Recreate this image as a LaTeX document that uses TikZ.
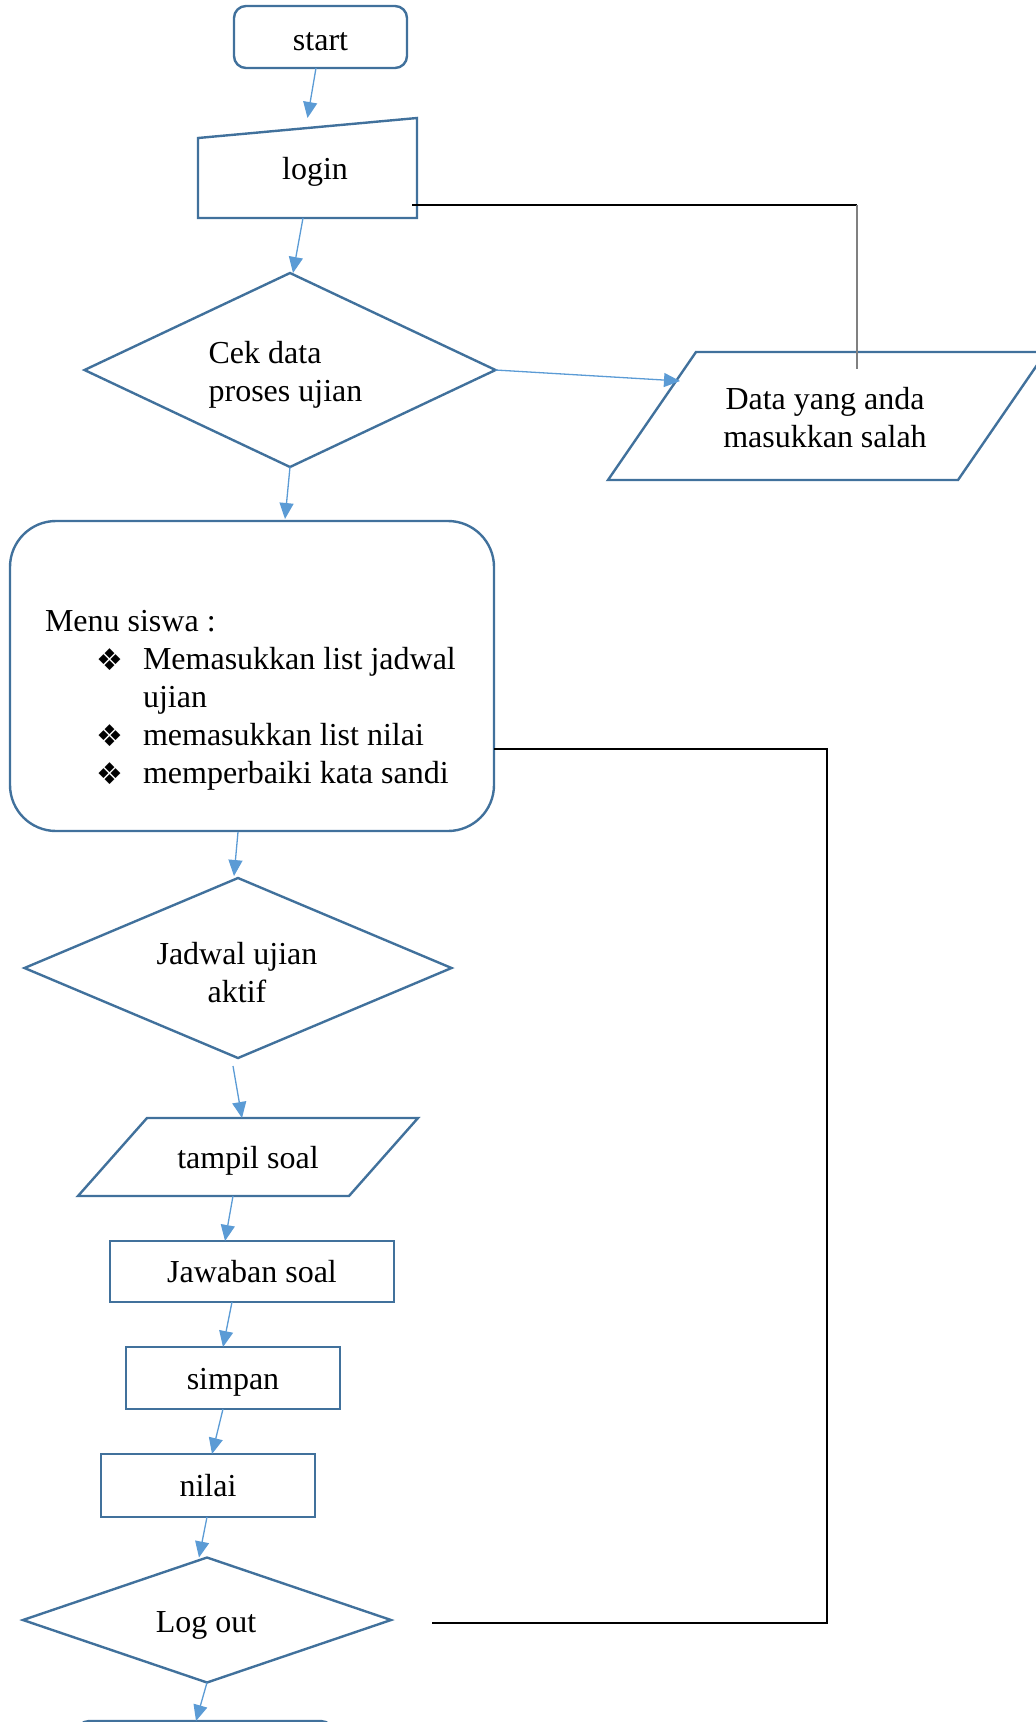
\documentclass[tikz,border=0pt]{standalone}
\usepackage{fontspec}
\setmainfont{Liberation Serif}
\newfontfamily\dingfont{DejaVu Sans}
\usetikzlibrary{shapes.geometric,arrows.meta,calc}
\definecolor{shapeblue}{HTML}{41719C}
\definecolor{arrowblue}{HTML}{5B9BD5}
\newcommand{\dingbul}{\raisebox{-1pt}{\dingfont\fontsize{30}{30}\selectfont ❖}}
\begin{document}
\begin{tikzpicture}[x=1pt,y=-1pt,
  every node/.style={font=\fontsize{32}{38}\selectfont, inner sep=0pt, outer sep=0pt},
  oneline/.style={text height=29pt, text depth=7pt},
  box/.style={draw=shapeblue, line width=2.4pt, rectangle, oneline},
  roundbox/.style={box, rounded corners=12pt},
  frame/.style={rectangle, draw=none},
  outline/.style={draw=shapeblue, line width=2.4pt, line join=miter},
  decision/.style={draw=shapeblue, line width=2.4pt, diamond},
  flow/.style={draw=arrowblue, line width=1.3pt, -{Triangle[length=16pt,width=14pt]}},
  link/.style={draw=black, line width=1.1pt},
  menutext/.style={anchor=base west}
]
\useasboundingbox (0,0) rectangle (1036,1722);

% --- shapes ---
\node[roundbox, minimum width=173pt, minimum height=62pt, text depth=3pt] (start) at (320.5,37) {start};

\node[frame, minimum width=219pt, minimum height=100pt] (login) at (307.5,168) {};
\draw[outline] (login.south west) -- ($(login.north west)+(0,20)$) -- (login.north east) -- (login.south east) -- cycle;
\node (logintext) at (315,172) {login};

\node[decision, minimum width=411pt, minimum height=194pt] (cek) at (290,370) {};
\node[align=left] (cektext) at (285.5,375) {Cek data\\proses ujian};

\node[frame, minimum width=438pt, minimum height=128pt] (data) at (827,416) {};
\draw[outline] ($(data.north west)+(88,0)$) -- (data.north east) -- ($(data.south east)+(-88,0)$) -- (data.south west) -- cycle;
\node[align=center] (datatext) at (825,417.5) {Data yang anda\\masukkan salah};

\node[draw=shapeblue, line width=2.4pt, rounded corners=46pt, minimum width=484pt, minimum height=310pt] (menu) at (252,676) {};
\node[menutext] (m0) at (45,631) {Menu siswa :};
\node[menutext] (m1) at (96,669) {\makebox[47pt][l]{\dingbul}Memasukkan list jadwal};
\node[menutext] (m2) at (143,707) {ujian};
\node[menutext] (m3) at (96,745) {\makebox[47pt][l]{\dingbul}memasukkan list nilai};
\node[menutext] (m4) at (96,783) {\makebox[47pt][l]{\dingbul}memperbaiki kata sandi};

\node[decision, minimum width=427pt, minimum height=180pt] (jadwal) at (238,968) {};
\node[align=center] (jadwaltext) at (237,972.5) {Jadwal ujian\\aktif};

\node[frame, minimum width=340pt, minimum height=78pt, oneline] (tampil) at (248,1157) {tampil soal};
\draw[outline] ($(tampil.north west)+(69,0)$) -- (tampil.north east) -- ($(tampil.south east)+(-69,0)$) -- (tampil.south west) -- cycle;

\node[box, minimum width=284pt, minimum height=61pt] (jawaban) at (252,1271.5) {Jawaban soal};
\node[box, minimum width=214pt, minimum height=62pt] (simpan) at (233,1378) {simpan};
\node[box, minimum width=214pt, minimum height=63pt] (nilai) at (208,1485.5) {nilai};

\node[decision, aspect=2.94, minimum width=368pt, minimum height=125pt] (logout) at (207,1620) {};
\node[oneline] (logouttext) at (206,1621) {Log out};

\node[draw=shapeblue, line width=2.4pt, rounded corners=12pt, minimum width=256pt, minimum height=60pt] (finish) at (205,1751) {};

% --- flow arrows ---
\draw[flow] ($(start.south)+(-4.5,0)$) -- (login.north);
\draw[flow] ($(login.south)+(-4.5,0)$) -- ($(cek.north)+(3,0)$);
\draw[flow] (cek.east) -- ($(data.north west)+(72,29)$);
\draw[flow] (cek.south) -- ($(menu.north)+(33,-2)$);
\draw[flow] ($(menu.south)+(-14,1)$) -- ($(jadwal.north)+(-4,-2)$);
\draw[flow] ($(jadwal.south)+(-5,8)$) -- ($(tampil.north)+(-6,0)$);
\draw[flow] ($(tampil.south)+(-15,0)$) -- ($(jawaban.north)+(-27,0)$);
\draw[flow] ($(jawaban.south)+(-20,0)$) -- ($(simpan.north)+(-10,0)$);
\draw[flow] ($(simpan.south)+(-10,0)$) -- ($(nilai.north)+(4,0)$);
\draw[flow] ($(nilai.south)+(-1,0)$) -- ($(logout.north)+(-8,0)$);
\draw[flow] (logout.south) -- ($(finish.north)+(-9,0)$);

% --- return lines ---
\coordinate (loginout) at ($(login.east)+(-5,37)$);
\coordinate (retcorner) at (857,205);
\coordinate (retend) at ($(data.north)+(30,17)$);
\draw[link] (loginout) -- (retcorner);
\draw[link, draw=gray] (retcorner) -- (retend);

\coordinate (menuout) at ($(menu.east)+(0,73)$);
\coordinate (loopa) at (827,749);
\coordinate (loopb) at (827,1623);
\coordinate (logoutin) at ($(logout.east)+(41,3)$);
\draw[link] (menuout) -- (loopa) -- (loopb) -- (logoutin);
\end{tikzpicture}
\end{document}
